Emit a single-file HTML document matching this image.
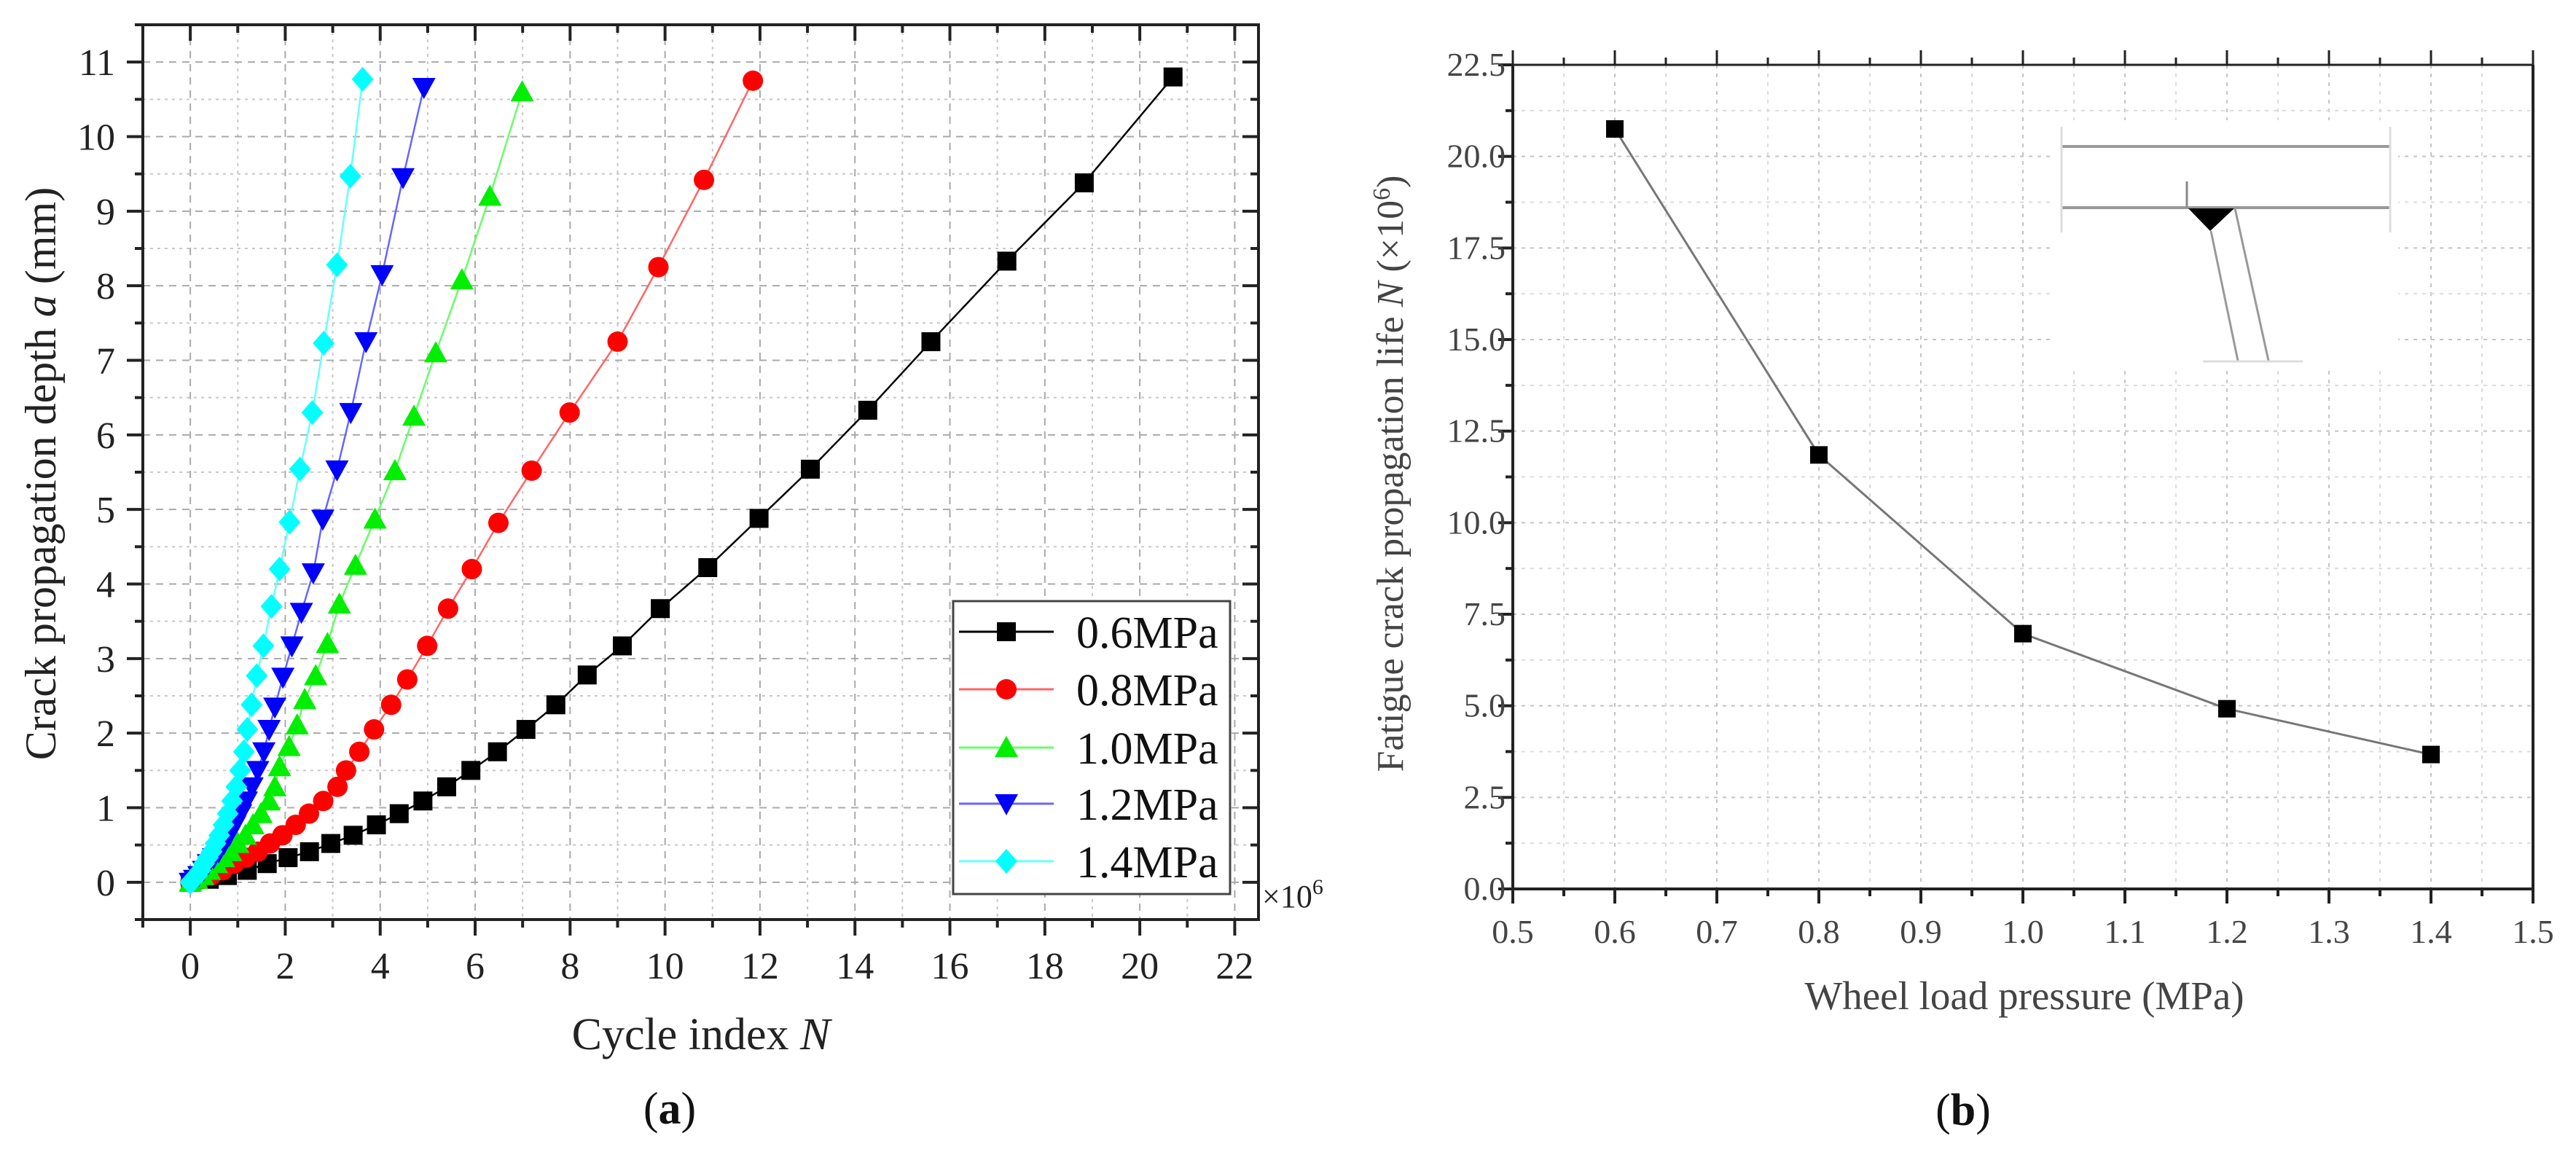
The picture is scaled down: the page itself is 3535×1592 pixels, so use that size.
<!DOCTYPE html>
<html><head><meta charset="utf-8"><style>
html,body{margin:0;padding:0;background:#fff;}
svg{display:block;font-family:"Liberation Serif",serif;}
</style></head><body>
<svg id="fig" width="3535" height="1592" viewBox="0 0 3535 1592" xmlns="http://www.w3.org/2000/svg">
<g id="chartA"></g>
<g id="chartB"></g>
</svg>
<script>
// ---------- Chart (a) data ----------
const seriesNames = ["0.6MPa","0.8MPa","1.0MPa","1.2MPa","1.4MPa"];
const n06 = [0,0.4,0.78,1.2,1.62,2.06,2.51,2.96,3.43,3.92,4.4,4.9,5.4,5.91,6.47,7.07,7.7,8.36,9.1,9.9,10.9,11.98,13.06,14.27,15.6,17.2,18.83,20.7];
const a06 = [0,0.04,0.09,0.16,0.25,0.33,0.41,0.52,0.63,0.77,0.92,1.09,1.28,1.5,1.75,2.05,2.38,2.78,3.17,3.67,4.22,4.88,5.54,6.33,7.25,8.33,9.38,10.8];
const n08 = [0,0.22,0.44,0.68,0.92,1.17,1.42,1.68,1.94,2.22,2.5,2.8,3.1,3.28,3.56,3.87,4.23,4.57,4.99,5.43,5.93,6.49,7.19,7.99,9.0,9.86,10.82,11.85];
const a08 = [0,0.04,0.09,0.16,0.25,0.33,0.41,0.52,0.63,0.77,0.92,1.09,1.28,1.5,1.75,2.05,2.38,2.72,3.17,3.67,4.2,4.82,5.52,6.3,7.25,8.25,9.42,10.75];
const n10 = [0,0.13,0.26,0.4,0.55,0.7,0.85,1.0,1.16,1.32,1.49,1.66,1.78,1.88,2.08,2.25,2.41,2.64,2.89,3.14,3.48,3.89,4.31,4.71,5.17,5.72,6.31,6.99];
const a10 = [0,0.04,0.09,0.16,0.25,0.33,0.41,0.52,0.63,0.77,0.92,1.09,1.28,1.55,1.82,2.11,2.45,2.77,3.2,3.73,4.25,4.87,5.52,6.25,7.1,8.08,9.2,10.6];
const n12 = [0,0.09,0.18,0.28,0.38,0.49,0.6,0.71,0.82,0.94,1.06,1.18,1.3,1.42,1.55,1.66,1.78,1.95,2.14,2.34,2.59,2.79,3.09,3.38,3.7,4.04,4.48,4.92];
const a12 = [0,0.04,0.09,0.16,0.25,0.33,0.41,0.52,0.63,0.77,0.92,1.09,1.28,1.5,1.75,2.05,2.35,2.75,3.17,3.62,4.15,4.87,5.53,6.3,7.25,8.15,9.45,10.66];
const n14 = [0,0.07,0.14,0.21,0.29,0.37,0.45,0.53,0.61,0.7,0.79,0.88,0.97,1.05,1.13,1.2,1.29,1.4,1.54,1.71,1.88,2.09,2.31,2.57,2.81,3.09,3.37,3.63];
const a14 = [0,0.04,0.09,0.16,0.25,0.33,0.41,0.52,0.63,0.77,0.92,1.09,1.28,1.5,1.75,2.05,2.38,2.77,3.17,3.7,4.2,4.83,5.54,6.3,7.23,8.28,9.47,10.77];
const xTicksA = [0,2,4,6,8,10,12,14,16,18,20,22];
const yTicksA = [0,1,2,3,4,5,6,7,8,9,10,11];
// ---------- Chart (b) data ----------
const pressures = [0.6,0.8,1.0,1.2,1.4];
const lives = [20.75,11.85,6.97,4.92,3.67];
const xTicksB = ["0.5","0.6","0.7","0.8","0.9","1.0","1.1","1.2","1.3","1.4","1.5"];
const yTicksB = ["0.0","2.5","5.0","7.5","10.0","12.5","15.0","17.5","20.0","22.5"];

const NS="http://www.w3.org/2000/svg";
function mk(parent,tag,attrs,text){const e=document.createElementNS(NS,tag);for(const k in attrs)e.setAttribute(k,attrs[k]);if(text!==undefined)e.textContent=text;parent.appendChild(e);return e;}

// ===== Chart A =====
const A=document.getElementById('chartA');
const aL=196,aR=1727,aT=34,aB=1262;
const ax0=-1.0,ax1=22.5,ay0=-0.5,ay1=11.5;
const xA=v=>aL+(v-ax0)/(ax1-ax0)*(aR-aL);
const yA=v=>aB-(v-ay0)/(ay1-ay0)*(aB-aT);
// grid
for(let v=-0;v<=22;v+=1){const g=mk(A,'line',{x1:xA(v),x2:xA(v),y1:aT,y2:aB,stroke:v%2===0?'#aaa':'#c8c8c8','stroke-width':2,'stroke-dasharray':v%2===0?'10,8':'4,6'});

}
for(let v=0;v<=11.01;v+=0.5){const g=mk(A,'line',{x1:aL,x2:aR,y1:yA(v),y2:yA(v),stroke:Number.isInteger(v)?'#aaa':'#c8c8c8','stroke-width':2,'stroke-dasharray':Number.isInteger(v)?'10,8':'4,6'});

}
// frame
const fa=mk(A,'rect',{x:aL,y:aT,width:aR-aL,height:aB-aT,fill:'none',stroke:'#222','stroke-width':4});


// ticks
for(let v=-1;v<=22;v+=1){const maj=v%2===0;const L=maj?22:11;
mk(A,'line',{x1:xA(v),x2:xA(v),y1:aB,y2:aB+L,stroke:'#222','stroke-width':4});
mk(A,'line',{x1:xA(v),x2:xA(v),y1:aT,y2:aT+L,stroke:'#222','stroke-width':4});}
for(let v=-0.5;v<=11.5;v+=0.5){const maj=Number.isInteger(v);const L=maj?22:11;
mk(A,'line',{x1:aL-L,x2:aL,y1:yA(v),y2:yA(v),stroke:'#222','stroke-width':4});
mk(A,'line',{x1:aR-L,x2:aR,y1:yA(v),y2:yA(v),stroke:'#222','stroke-width':4});}
xTicksA.forEach(v=>{const t=mk(A,'text',{x:xA(v),y:1343,'font-size':52,'text-anchor':'middle',fill:'#222'},String(v));

});
yTicksA.forEach(v=>{const t=mk(A,'text',{x:158,y:yA(v)+18,'font-size':52,'text-anchor':'end',fill:'#222'},String(v));

});
const yt=mk(A,'text',{x:0,y:0,'font-size':60,'text-anchor':'middle',fill:'#222',transform:'translate(76,650) rotate(-90)'});
yt.innerHTML='Crack propagation depth <tspan font-style="italic">a</tspan> (mm)';


const xt=mk(A,'text',{x:962,y:1440,'font-size':62,'text-anchor':'middle',fill:'#222'});
xt.innerHTML='Cycle index <tspan font-style="italic">N</tspan>';


const xm=mk(A,'text',{x:1732,y:1245,'font-size':44,fill:'#222'});
xm.innerHTML='×10<tspan font-size="30" dy="-18">6</tspan>';


const la=mk(A,'text',{x:919,y:1542,'font-size':62,'text-anchor':'middle',fill:'#111'});
la.innerHTML='(<tspan font-weight="bold">a</tspan>)';



function marker(g,kind,cx,cy,col){
 if(kind==='sq')return mk(g,'rect',{x:cx-13,y:cy-13,width:26,height:26,fill:col});
 if(kind==='ci')return mk(g,'circle',{cx:cx,cy:cy,r:14,fill:col});
 if(kind==='up')return mk(g,'polygon',{points:`${cx},${cy-16} ${cx-16},${cy+13} ${cx+16},${cy+13}`,fill:col});
 if(kind==='dn')return mk(g,'polygon',{points:`${cx-16},${cy-13} ${cx+16},${cy-13} ${cx},${cy+16}`,fill:col});
 return mk(g,'polygon',{points:`${cx},${cy-17} ${cx+15},${cy} ${cx},${cy+17} ${cx-15},${cy}`,fill:col});
}
const sers=[[n06,a06,'#000','#000','sq'],[n08,a08,'#f00','#f66','ci'],[n10,a10,'#0e0','#6f6','up'],[n12,a12,'#00f','#66f','dn'],[n14,a14,'#0ff','#6ff','di']];
sers.forEach((s,i)=>{
 const g=mk(A,'g',{});
 
 
 const pts=s[0].map((n,j)=>xA(n)+','+yA(s[1][j])).join(' ');
 mk(g,'polyline',{points:pts,fill:'none',stroke:s[3],'stroke-width':2.5});
 s[0].forEach((n,j)=>{const m=marker(g,s[4],xA(n),yA(s[1][j]),s[2]);
 
 });
});
// legend
const lg=mk(A,'g',{});


mk(lg,'rect',{x:1308,y:825,width:380,height:402,fill:'#fff',stroke:'#444','stroke-width':3});
const ly=[867,946,1026,1103,1182];
sers.forEach((s,i)=>{
 const e=mk(lg,'g',{});
 
 
 mk(e,'line',{x1:1316,x2:1446,y1:ly[i],y2:ly[i],stroke:s[3],'stroke-width':3});
 marker(e,s[4],1381,ly[i],s[2]);
 mk(e,'text',{x:1477,y:ly[i]+22,'font-size':62,fill:'#111'},seriesNames[i]);
});

// ===== Chart B =====
const B=document.getElementById('chartB');
const bL=2076,bR=3476,bT=89,bB=1220;
const xB=v=>bL+(v-0.5)/1.0*(bR-bL);
const yB=v=>bB-v/22.5*(bB-bT);
for(let k=1;k<20;k++){const v=0.5+k*0.05;const g=mk(B,'line',{x1:xB(v),x2:xB(v),y1:bT,y2:bB,stroke:k%2===0?'#c4c4c4':'#dcdcdc','stroke-width':2,'stroke-dasharray':'5,7'});

}
for(let k=1;k<18;k++){const v=k*1.25;const g=mk(B,'line',{x1:bL,x2:bR,y1:yB(v),y2:yB(v),stroke:k%2===0?'#c4c4c4':'#dcdcdc','stroke-width':2,'stroke-dasharray':'5,7'});

}
// inset (white area with T-joint sketch)
const ins=mk(B,'g',{});


mk(ins,'rect',{x:2816,y:165,width:475,height:340,fill:'#fff'});
mk(ins,'line',{x1:2829,x2:3280,y1:201,y2:201,stroke:'#999','stroke-width':4});
mk(ins,'line',{x1:2829,x2:3280,y1:285,y2:285,stroke:'#999','stroke-width':4});
mk(ins,'line',{x1:2829,x2:2829,y1:174,y2:319,stroke:'#ddd','stroke-width':3});
mk(ins,'line',{x1:3280,x2:3280,y1:174,y2:319,stroke:'#ddd','stroke-width':3});
mk(ins,'line',{x1:3001,x2:3001,y1:249,y2:285,stroke:'#888','stroke-width':3});
mk(ins,'polygon',{points:'3003,286 3066,286 3033,317',fill:'#000'});
mk(ins,'line',{x1:3034,y1:317,x2:3071,y2:495,stroke:'#999','stroke-width':3});
mk(ins,'line',{x1:3067,y1:286,x2:3113,y2:495,stroke:'#999','stroke-width':3});
mk(ins,'line',{x1:3023,y1:496,x2:3160,y2:496,stroke:'#ddd','stroke-width':3});
// axes
const ax=mk(B,'path',{d:`M${bL},${bT} V${bB} H${bR} V${bT}`,fill:'none',stroke:'#222','stroke-width':4});


mk(B,'line',{x1:bL,x2:bR,y1:bT,y2:bT,stroke:'#222','stroke-width':3});
for(let k=0;k<=20;k++){const v=0.5+k*0.05;const L=k%2===0?20:10;
mk(B,'line',{x1:xB(v),x2:xB(v),y1:bB,y2:bB+L,stroke:'#222','stroke-width':4});
mk(B,'line',{x1:xB(v),x2:xB(v),y1:bT,y2:bT-L,stroke:'#222','stroke-width':3});}
for(let k=0;k<=18;k++){const v=k*1.25;const L=k%2===0?20:10;
mk(B,'line',{x1:bL-L,x2:bL,y1:yB(v),y2:yB(v),stroke:'#222','stroke-width':4});}
xTicksB.forEach(s=>{const t=mk(B,'text',{x:xB(parseFloat(s)),y:1294,'font-size':46,'text-anchor':'middle',fill:'#444'},s);

});
yTicksB.forEach(s=>{const t=mk(B,'text',{x:2066,y:yB(parseFloat(s))+15,'font-size':46,'text-anchor':'end',fill:'#444'},s);

});
const ytb=mk(B,'text',{x:0,y:0,'font-size':52,'text-anchor':'middle',fill:'#444',transform:'translate(1925,650) rotate(-90)'});
ytb.innerHTML='Fatigue crack propagation life <tspan font-style="italic">N</tspan> (×10<tspan font-size="34" dy="-18">6</tspan><tspan dy="18">)</tspan>';


const xtb=mk(B,'text',{x:2778,y:1385,'font-size':55,'text-anchor':'middle',fill:'#444'},'Wheel load pressure (MPa)');


const lb=mk(B,'text',{x:2694,y:1544,'font-size':62,'text-anchor':'middle',fill:'#111'});
lb.innerHTML='(<tspan font-weight="bold">b</tspan>)';


const sb=mk(B,'g',{});


mk(sb,'polyline',{points:pressures.map((p,i)=>xB(p)+','+yB(lives[i])).join(' '),fill:'none',stroke:'#777','stroke-width':3});
pressures.forEach((p,i)=>{const m=mk(sb,'rect',{x:xB(p)-12,y:yB(lives[i])-12,width:24,height:24,fill:'#000'});

});
</script>
</body></html>
